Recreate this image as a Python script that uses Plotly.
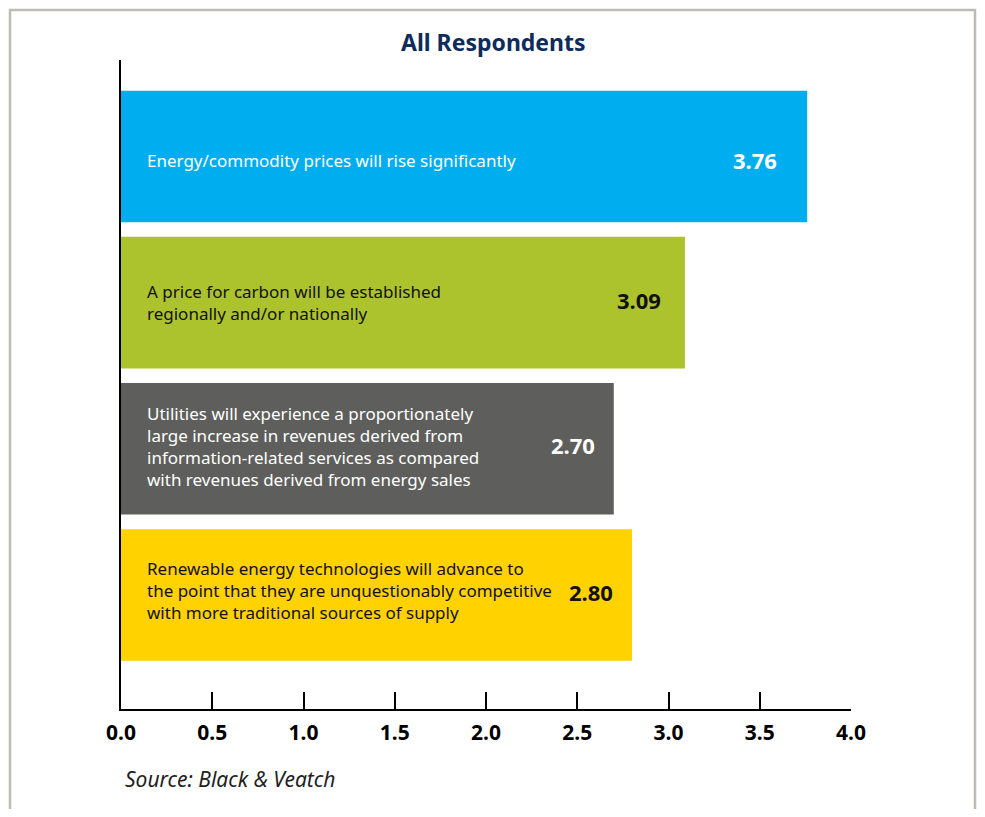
import plotly.graph_objects as go

categories = [
    "Energy/commodity prices will rise significantly",
    "A price for carbon will be established<br>regionally and/or nationally",
    "Utilities will experience a proportionately<br>large increase in revenues derived from<br>information-related services as compared<br>with revenues derived from energy sales",
    "Renewable energy technologies will advance to<br>the point that they are unquestionably competitive<br>with more traditional sources of supply",
]
values = [3.76, 3.09, 2.70, 2.80]
value_labels = ["3.76", "3.09", "2.70", "2.80"]
bar_colors = ["#00AEEF", "#ADC32E", "#5E5F5C", "#FFD200"]
text_colors = ["white", "#111111", "white", "#111111"]
tick_vals = [0, 0.5, 1.0, 1.5, 2.0, 2.5, 3.0, 3.5, 4.0]
tick_text = ["0.0", "0.5", "1.0", "1.5", "2.0", "2.5", "3.0", "3.5", "4.0"]

FONT = "Noto Sans"
pos = list(range(len(categories)))

# page offset (body margin) compensation; keep page from overflowing the window
OFF = 8
W, H = 985 - 2 * OFF, 817 - 2 * OFF
L, T = 121 - OFF, 60 - OFF
R = W - L - 730
B = H - T - 649
pw, ph = W - L - R, H - T - B


def px_x(x):
    return (x - 121) / pw


def px_y(y):
    return (709 - y) / ph


fig = go.Figure()
fig.add_trace(go.Bar(
    x=values, y=pos, orientation="h", width=0.9,
    marker=dict(color=bar_colors, line=dict(width=0)),
    hoverinfo="skip",
))

label_yshift = [-4, 0, 2, 4]
value_xshift = [-28, -22, -17, -17]
value_yshift = [-4, 3, 4, 3]
for i, (cat, v, lab, tc) in enumerate(zip(categories, values, value_labels, text_colors)):
    fig.add_annotation(x=0, y=i, xref="x", yref="y", text=cat, showarrow=False,
                       xanchor="left", yanchor="middle", align="left", xshift=24,
                       yshift=label_yshift[i],
                       font=dict(family=FONT, size=17, color=tc))
    fig.add_annotation(x=v, y=i, xref="x", yref="y", text="<b>" + lab + "</b>", showarrow=False,
                       xanchor="right", yanchor="middle", xshift=value_xshift[i],
                       yshift=value_yshift[i],
                       font=dict(family=FONT, size=22, color=tc))

fig.add_annotation(x=px_x(493), y=px_y(42), xref="paper", yref="paper",
                   text="<b>All Respondents</b>", showarrow=False,
                   xanchor="center", yanchor="middle",
                   font=dict(family=FONT, size=23, color="#0E2B5C"))
fig.add_annotation(x=px_x(123), y=px_y(779), xref="paper", yref="paper",
                   text="<i>Source: Black &amp; Veatch</i>", showarrow=False,
                   xanchor="left", yanchor="middle",
                   font=dict(family=FONT, size=21, color="#222222"))

# frame (kept inside the drawable figure area)
fig.add_shape(type="rect", xref="paper", yref="paper",
              x0=px_x(10), x1=px_x(OFF + W - 2), y0=px_y(840), y1=px_y(10),
              line=dict(color="#BDBBB4", width=2.5), fillcolor="rgba(0,0,0,0)", layer="below")

fig.update_layout(
    width=W, height=H,
    margin=dict(l=L, r=R, t=T, b=B),
    paper_bgcolor="white", plot_bgcolor="white",
    showlegend=False,
    bargap=0.1,
)
fig.update_xaxes(range=[0, 4.0], tickvals=tick_vals, ticktext=tick_text,
                 ticks="inside", ticklen=17, tickwidth=2, tickcolor="black",
                 showline=True, linecolor="black", linewidth=2, showgrid=False, zeroline=False,
                 tickfont=dict(family=FONT, size=21, color="black", weight="bold"),
                 ticklabelstandoff=4)
fig.update_yaxes(range=[3.78, -0.66], showticklabels=False, ticks="",
                 showline=True, linecolor="black", linewidth=2, showgrid=False, zeroline=False)

fig.write_html("out.html")
